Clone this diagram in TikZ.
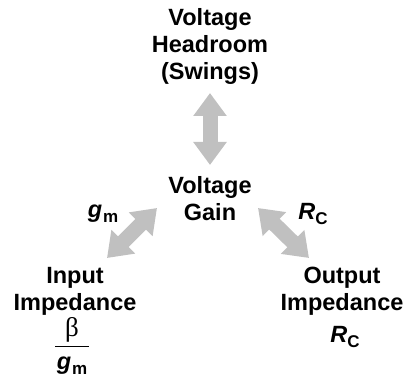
\documentclass[tikz,border=0pt]{standalone}
\usepackage{fontspec}
\setmainfont{Liberation Sans}
\newfontfamily\betafont{Liberation Serif}
\usetikzlibrary{arrows.meta}
\definecolor{arrgray}{RGB}{192,192,192}
\newcommand{\gm}{{\itshape g}\kern1pt\raisebox{-5pt}{\fontsize{17}{17}\selectfont m}}
\newcommand{\rc}{{\itshape R}\raisebox{-5pt}{\fontsize{17}{17}\selectfont C}}
\tikzset{
  every node/.style={font=\fontsize{23.5}{27}\selectfont\bfseries,inner sep=0pt},
  lbl/.style={align=center},
  biarrow/.style={draw=arrgray,line width=15pt,
                  {Triangle[length=23pt,width=32pt]}-{Triangle[length=23pt,width=32pt]}},
}
\begin{document}
\begin{tikzpicture}[x=1pt,y=1pt]
  \useasboundingbox (0,0) rectangle (403,-379);

  % quantities
  \node[lbl] (headroom) at (210,-46)  {Voltage\\Headroom\\(Swings)};
  \node[lbl] (gain)     at (210,-199) {Voltage\\Gain};
  \node[lbl] (input)    at (75,-291)  {Input\\Impedance};
  \node[lbl] (output)   at (342,-291) {Output\\Impedance};

  % expressions
  \node (gmlbl)  at (103,-214) {\gm};
  \node (rclbl)  at (313,-214) {\rc};
  \node (inexpr) at (72,-346)
    {$\displaystyle\frac{\makebox[34pt]{\betafont\mdseries\fontsize{27}{27}\selectfont β}}{\mbox{\gm}}$};
  \node (outexpr) at (345,-337) {\rc};

  % arrow ends
  \coordinate (vtop) at (210,-93);
  \coordinate (vbot) at (210,-165);
  \coordinate (ltop) at (157,-208);
  \coordinate (lbot) at (107,-258);
  \coordinate (rtop) at (258,-208);
  \coordinate (rbot) at (309,-258);

  \draw[biarrow] (vtop) -- (vbot);
  \draw[biarrow] (ltop) -- (lbot);
  \draw[biarrow] (rtop) -- (rbot);
\end{tikzpicture}
\end{document}
